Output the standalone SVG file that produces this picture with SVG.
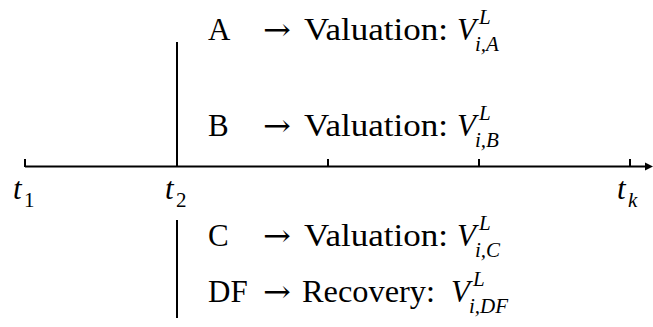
<svg xmlns="http://www.w3.org/2000/svg" width="653" height="327" viewBox="0 0 653 327">
<style>
.ln{stroke:#000;stroke-width:2;fill:none}
.t{font-family:"Liberation Serif",serif;font-size:31px;fill:#000}
.i{font-style:italic}
.s{font-family:"Liberation Serif",serif;font-size:21px;fill:#000;font-style:italic}
.sr{font-family:"Liberation Serif",serif;font-size:21px;fill:#000}
.ar{font-family:"DejaVu Serif",serif;font-size:30px;fill:#000}
</style>
<rect width="653" height="327" fill="#fff"/>
<g id="connectors">
<line class="ln" x1="25" y1="166.5" x2="647" y2="166.5"/>
<polygon points="653,166.5 645,162.5 645,170.5" fill="#000"/>
<line class="ln" x1="25" y1="159" x2="25" y2="167"/>
<line class="ln" x1="328" y1="159" x2="328" y2="167"/>
<line class="ln" x1="479" y1="159" x2="479" y2="167"/>
<line class="ln" x1="630" y1="159" x2="630" y2="167"/>
<line class="ln" x1="177" y1="42" x2="177" y2="167"/>
<line class="ln" x1="177" y1="220" x2="177" y2="318"/>
</g>
<g id="t1"><text class="t i" x="13" y="199">t</text><text class="sr" x="24" y="207">1</text></g>
<g id="t2"><text class="t i" x="165" y="199">t</text><text class="sr" x="176" y="207">2</text></g>
<g id="tk"><text class="t i" x="617" y="199">t</text><text class="s" x="628" y="207">k</text></g>
<g id="rowA">
<text class="t" x="208" y="40">A</text>
<text class="ar" x="263" y="40" textLength="28" lengthAdjust="spacingAndGlyphs">→</text>
<text class="t" x="304" y="40" textLength="144" lengthAdjust="spacingAndGlyphs">Valuation:</text>
<text class="t i" x="457" y="40">V</text><text class="s" x="479" y="24">L</text><text class="s" x="475" y="51">i,A</text>
</g>
<g id="rowB">
<text class="t" x="208" y="136">B</text>
<text class="ar" x="263" y="136" textLength="28" lengthAdjust="spacingAndGlyphs">→</text>
<text class="t" x="304" y="136" textLength="144" lengthAdjust="spacingAndGlyphs">Valuation:</text>
<text class="t i" x="457" y="136">V</text><text class="s" x="479" y="120">L</text><text class="s" x="475" y="147">i,B</text>
</g>
<g id="rowC">
<text class="t" x="208" y="246">C</text>
<text class="ar" x="263" y="246" textLength="28" lengthAdjust="spacingAndGlyphs">→</text>
<text class="t" x="304" y="246" textLength="144" lengthAdjust="spacingAndGlyphs">Valuation:</text>
<text class="t i" x="457" y="246">V</text><text class="s" x="479" y="230">L</text><text class="s" x="475" y="257">i,C</text>
</g>
<g id="rowDF">
<text class="t" x="208" y="302">DF</text>
<text class="ar" x="263" y="302" textLength="28" lengthAdjust="spacingAndGlyphs">→</text>
<text class="t" x="302" y="302" textLength="133" lengthAdjust="spacingAndGlyphs">Recovery:</text>
<text class="t i" x="451" y="302">V</text><text class="s" x="473" y="286">L</text><text class="s" x="469" y="313">i,DF</text>
</g>
</svg>
